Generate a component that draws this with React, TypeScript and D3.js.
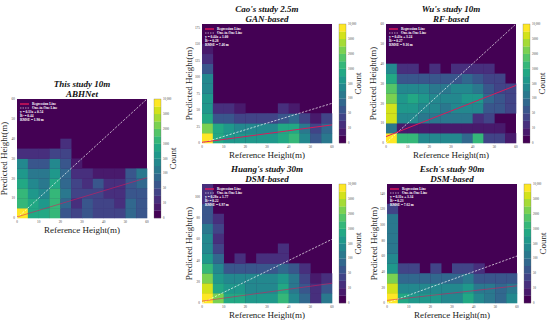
import React from "react";
import * as d3 from "d3";

// ---------- data ----------
const xTicks = [0, 10, 20, 30, 40, 50, 60];
const xBinSize = 5;
const cbTicks = [0, 10, 50, 100, 500, 1000, 2000, 5000, 10000];
const cbTickLabels = ["0", "10", "50", "100", "500", "1000", "2000", "5000", "10,000"];

const titles = ["This study 10m", "Cao's study 2.5m", "Wu's study 10m", "Huang's study 30m", "Esch's study 90m"];
const subtitles = ["ABHNet", "GAN-based", "RF-based", "DSM-based", "DSM-based"];
const yMaxes = [60, 180, 60, 112, 152];
const yTickSets = [
  [0, 10, 20, 30, 40, 50, 60],
  [0, 25, 50, 75, 100, 125, 150, 175],
  [0, 10, 20, 30, 40, 50, 60],
  [0, 20, 40, 60, 80, 100],
  [0, 20, 40, 60, 80, 100, 120, 140],
];
const slopes = [0.33, 0.44, 0.43, 0.28, 0.31];
const intercepts = [0.54, 1.0, 3.24, 1.77, 3.34];
const r2s = ["0.44", "0.28", "0.27", "0.22", "0.23"];
const rmses = ["1.90", "7.46", "9.16", "6.97", "7.62"];

// counts per bin, rows from bottom (y bin 0) to top, 12 x-bins of 5 m
const gridThisStudy = [
  [10000, 800, 800, 1100, 55, 32, 55, 32, 32, 32, 80, 55],
  [1100, 800, 550, 1100, 80, 12, 55, 32, 32, 12, 80, 55],
  [1100, 550, 320, 1100, 110, 32, 32, 32, 12, 12, 55, 55],
  [800, 320, 110, 800, 80, 32, 12, 55, 12, 12, 55, 80],
  [550, 110, 110, 550, 80, 12, 12, 6, 6, 6, 55, 110],
  [320, 55, 55, 320, 55, 6, 0, 0, 0, 0, 0, 0],
  [12, 12, 12, 32, 32, 0, 0, 0, 0, 0, 0, 0],
  [0, 0, 0, 0, 12, 0, 0, 0, 0, 0, 0, 0],
  [0, 0, 0, 0, 0, 0, 0, 0, 0, 0, 0, 0],
  [0, 0, 0, 0, 0, 0, 0, 0, 0, 0, 0, 0],
  [0, 0, 0, 0, 0, 0, 0, 0, 0, 0, 0, 0],
  [0, 0, 0, 0, 0, 0, 0, 0, 0, 0, 0, 0],
];
const gridCao = [
  [10000, 800, 550, 550, 550, 550, 550, 800, 1100, 320, 55, 110],
  [2200, 800, 550, 320, 320, 320, 320, 800, 800, 110, 32, 80],
  [800, 55, 55, 32, 32, 32, 32, 55, 80, 32, 6, 32],
  [550, 12, 12, 6, 0, 0, 0, 12, 6, 0, 0, 0],
  [550, 0, 0, 0, 0, 0, 0, 0, 0, 0, 0, 0],
  [320, 0, 0, 0, 0, 0, 0, 0, 0, 0, 0, 0],
  [320, 0, 0, 0, 0, 0, 0, 0, 0, 0, 0, 0],
  [55, 0, 0, 0, 0, 0, 0, 0, 0, 0, 0, 0],
  [12, 0, 0, 0, 0, 0, 0, 0, 0, 0, 0, 0],
  [6, 0, 0, 0, 0, 0, 0, 0, 0, 0, 0, 0],
  [0, 0, 0, 0, 0, 0, 0, 0, 0, 0, 0, 0],
  [0, 0, 0, 0, 0, 0, 0, 0, 0, 0, 0, 0],
];
const gridWu = [
  [10000, 1100, 1100, 320, 320, 320, 320, 80, 1100, 32, 32, 6],
  [110, 6, 6, 6, 6, 6, 6, 6, 6, 6, 6, 0],
  [5500, 320, 320, 110, 110, 110, 110, 110, 12, 32, 0, 0],
  [5500, 550, 550, 320, 320, 110, 320, 320, 320, 55, 55, 32],
  [2200, 550, 800, 550, 320, 320, 320, 550, 550, 80, 55, 32],
  [1600, 320, 320, 320, 110, 110, 320, 320, 110, 55, 32, 32],
  [800, 55, 55, 55, 55, 55, 55, 80, 55, 32, 32, 0],
  [320, 12, 12, 0, 12, 0, 12, 12, 12, 12, 0, 0],
  [0, 0, 0, 0, 0, 0, 0, 0, 0, 0, 0, 0],
  [0, 0, 0, 0, 0, 0, 0, 0, 0, 0, 0, 0],
  [0, 0, 0, 0, 0, 0, 0, 0, 0, 0, 0, 0],
  [0, 0, 0, 0, 0, 0, 0, 0, 0, 0, 0, 0],
];
const gridHuang = [
  [10000, 2200, 800, 800, 550, 550, 550, 1100, 320, 80, 12, 110],
  [5500, 800, 550, 550, 320, 320, 320, 800, 110, 55, 12, 55],
  [2200, 550, 320, 320, 320, 320, 320, 550, 110, 32, 6, 12],
  [1100, 320, 55, 55, 55, 55, 55, 80, 55, 12, 0, 0],
  [550, 80, 0, 12, 0, 12, 12, 12, 0, 0, 0, 0],
  [320, 32, 0, 0, 0, 0, 0, 12, 0, 0, 0, 0],
  [320, 12, 0, 0, 0, 0, 0, 0, 0, 0, 0, 0],
  [110, 32, 0, 0, 0, 0, 0, 0, 0, 0, 0, 0],
  [55, 12, 0, 0, 0, 0, 0, 0, 0, 0, 0, 0],
  [55, 0, 0, 0, 0, 0, 0, 0, 0, 0, 0, 0],
  [12, 0, 0, 0, 0, 0, 0, 0, 0, 0, 0, 0],
  [12, 0, 0, 0, 0, 0, 0, 0, 0, 0, 0, 0],
];
const gridEsch = [
  [10000, 800, 550, 550, 550, 320, 320, 800, 320, 110, 80, 320],
  [5500, 320, 320, 320, 320, 320, 320, 550, 110, 110, 80, 110],
  [2200, 80, 80, 80, 80, 80, 80, 110, 55, 55, 55, 55],
  [550, 32, 32, 0, 32, 0, 32, 32, 12, 0, 0, 0],
  [320, 0, 0, 0, 0, 0, 0, 0, 0, 0, 0, 0],
  [110, 0, 0, 0, 0, 0, 0, 0, 0, 0, 0, 0],
  [110, 0, 0, 0, 0, 0, 0, 0, 0, 0, 0, 0],
  [110, 0, 0, 0, 0, 0, 0, 0, 0, 0, 0, 0],
  [110, 0, 0, 0, 0, 0, 0, 0, 0, 0, 0, 0],
  [32, 0, 0, 0, 0, 0, 0, 0, 0, 0, 0, 0],
  [0, 0, 0, 0, 0, 0, 0, 0, 0, 0, 0, 0],
  [0, 0, 0, 0, 0, 0, 0, 0, 0, 0, 0, 0],
];
const grids = [gridThisStudy, gridCao, gridWu, gridHuang, gridEsch];

// ---------- layout ----------
const layout = [
  { x: 17, y: 99, regOpacity: 0.55 },
  { x: 202, y: 24, regOpacity: 0.95 },
  { x: 386, y: 24, regOpacity: 0.95 },
  { x: 202, y: 184, regOpacity: 0.55 },
  { x: 387, y: 184, regOpacity: 0.55 },
];
const PW = 130;
const PH = 119;
const NB = 16;
const FONT = "'Liberation Serif', 'DejaVu Serif', serif";

const tScale = d3
  .scaleLinear()
  .domain(cbTicks)
  .range(cbTicks.map((_, i) => i / (cbTicks.length - 1)))
  .clamp(true);
const bandColor = (b: number) => d3.interpolateViridis(b / (NB - 1));
const colorOf = (v: number) => bandColor(Math.min(NB - 1, Math.floor(tScale(v) * NB + 1e-9)));

function Panel({ i }: { i: number }) {
  const L = layout[i];
  const grid = grids[i];
  const yMax = yMaxes[i];
  const yBin = yMax / grid.length;
  const xs = d3.scaleLinear().domain([0, 60]).range([L.x, L.x + PW]);
  const ys = d3.scaleLinear().domain([0, yMax]).range([L.y + PH, L.y]);
  const cx = L.x + PW / 2;
  const cy = L.y + PH / 2;
  const cbX = L.x + PW + 7;
  const cbW = 7;
  const cbS = d3.scaleLinear().domain([0, 1]).range([L.y + PH, L.y]);
  const clipId = `clip${i}`;
  const lx = L.x + 3;
  const ly = L.y + 5;
  const fx0 = 0;
  const fx1 = 60;
  return (
    <g>
      <defs>
        <clipPath id={clipId}>
          <rect x={L.x} y={L.y} width={PW} height={PH} />
        </clipPath>
      </defs>
      {/* titles */}
      <text x={cx} y={L.y - 12} textAnchor="middle" fontFamily={FONT} fontWeight="bold" fontStyle="italic" fontSize={9} fill="#111">
        {titles[i]}
      </text>
      <text x={cx} y={L.y - 2.5} textAnchor="middle" fontFamily={FONT} fontWeight="bold" fontStyle="italic" fontSize={9} fill="#111">
        {subtitles[i]}
      </text>
      {/* background */}
      <rect x={L.x} y={L.y} width={PW} height={PH} fill={bandColor(0)} />
      {/* cells */}
      {grid.map((row, r) =>
        row.map((v, c) =>
          v > 0 ? (
            <rect
              key={`${r}-${c}`}
              x={xs(c * xBinSize)}
              y={ys((r + 1) * yBin)}
              width={xs((c + 1) * xBinSize) - xs(c * xBinSize) + 0.3}
              height={ys(r * yBin) - ys((r + 1) * yBin) + 0.3}
              fill={colorOf(v)}
            />
          ) : null
        )
      )}
      {/* lines */}
      <g clipPath={`url(#${clipId})`}>
        <line x1={xs(0)} y1={ys(0)} x2={xs(60)} y2={ys(60)} stroke="#fff" strokeOpacity={0.85} strokeWidth={0.8} strokeDasharray="2.2,1.4" />
        <line
          x1={xs(fx0)}
          y1={ys(slopes[i] * fx0 + intercepts[i])}
          x2={xs(fx1)}
          y2={ys(slopes[i] * fx1 + intercepts[i])}
          stroke="#e0175a"
          strokeOpacity={L.regOpacity}
          strokeWidth={1}
        />
      </g>
      {/* legend */}
      <line x1={lx} y1={ly} x2={lx + 9} y2={ly} stroke="#e0175a" strokeWidth={1.4} />
      <text x={lx + 12} y={ly + 1.2} fontFamily={FONT} fontWeight="bold" fontSize={3.5} fill="#fff">Regression Line</text>
      <line x1={lx} y1={ly + 4} x2={lx + 9} y2={ly + 4} stroke="#fff" strokeWidth={0.6} strokeDasharray="1.5,1" />
      <text x={lx + 12} y={ly + 5.2} fontFamily={FONT} fontWeight="bold" fontSize={3.5} fill="#fff">One-to-One Line</text>
      <text x={lx} y={ly + 9.4} fontFamily={FONT} fontWeight="bold" fontSize={3.5} fill="#fff">
        {`y = ${slopes[i].toFixed(2)}x + ${intercepts[i].toFixed(2)}`}
      </text>
      <text x={lx} y={ly + 13.4} fontFamily={FONT} fontWeight="bold" fontSize={3.5} fill="#fff">
        {`R² = ${r2s[i]}`}
      </text>
      <text x={lx} y={ly + 17.4} fontFamily={FONT} fontWeight="bold" fontSize={3.5} fill="#fff">
        {`RMSE = ${rmses[i]} m`}
      </text>
      {/* axes ticks */}
      {xTicks.map((t) => (
        <text key={`x${t}`} x={xs(t)} y={L.y + PH + 4.5} textAnchor="middle" fontFamily={FONT} fontSize={3.4} fill="#444">
          {t}
        </text>
      ))}
      {yTickSets[i].map((t) => (
        <text key={`y${t}`} x={L.x - 2} y={ys(t) + 1.2} textAnchor="end" fontFamily={FONT} fontSize={3.4} fill="#444">
          {t}
        </text>
      ))}
      <text x={cx} y={L.y + PH + 15} textAnchor="middle" fontFamily={FONT} fontSize={9} fill="#222">
        Reference Height(m)
      </text>
      <text transform={`translate(${L.x - 10.5},${cy}) rotate(-90)`} textAnchor="middle" fontFamily={FONT} fontSize={9} fill="#222">
        Predicted Height(m)
      </text>
      {/* colorbar */}
      {d3.range(NB).map((b) => (
        <rect key={`cb${b}`} x={cbX} y={cbS((b + 1) / NB)} width={cbW} height={cbS(b / NB) - cbS((b + 1) / NB) + 0.2} fill={bandColor(b)} />
      ))}
      <rect x={cbX} y={L.y} width={cbW} height={PH} fill="none" stroke="#666" strokeWidth={0.3} />
      {cbTicks.map((t, k) => (
        <text key={`cbt${t}`} x={cbX + cbW + 2} y={cbS(tScale(t)) + 1} fontFamily={FONT} fontSize={3} fill="#444">
          {cbTickLabels[k]}
        </text>
      ))}
      <text transform={`translate(${cbX + cbW + 15},${cy}) rotate(-90)`} textAnchor="middle" fontFamily={FONT} fontSize={9} fill="#222">
        Count
      </text>
    </g>
  );
}

export default function App() {
  return (
    <svg width={550} height={322} style={{ position: "absolute", left: 0, top: 0, background: "#fff" }}>
      <rect width={550} height={322} fill="#fff" />
      {layout.map((_, i) => (
        <Panel key={i} i={i} />
      ))}
    </svg>
  );
}
